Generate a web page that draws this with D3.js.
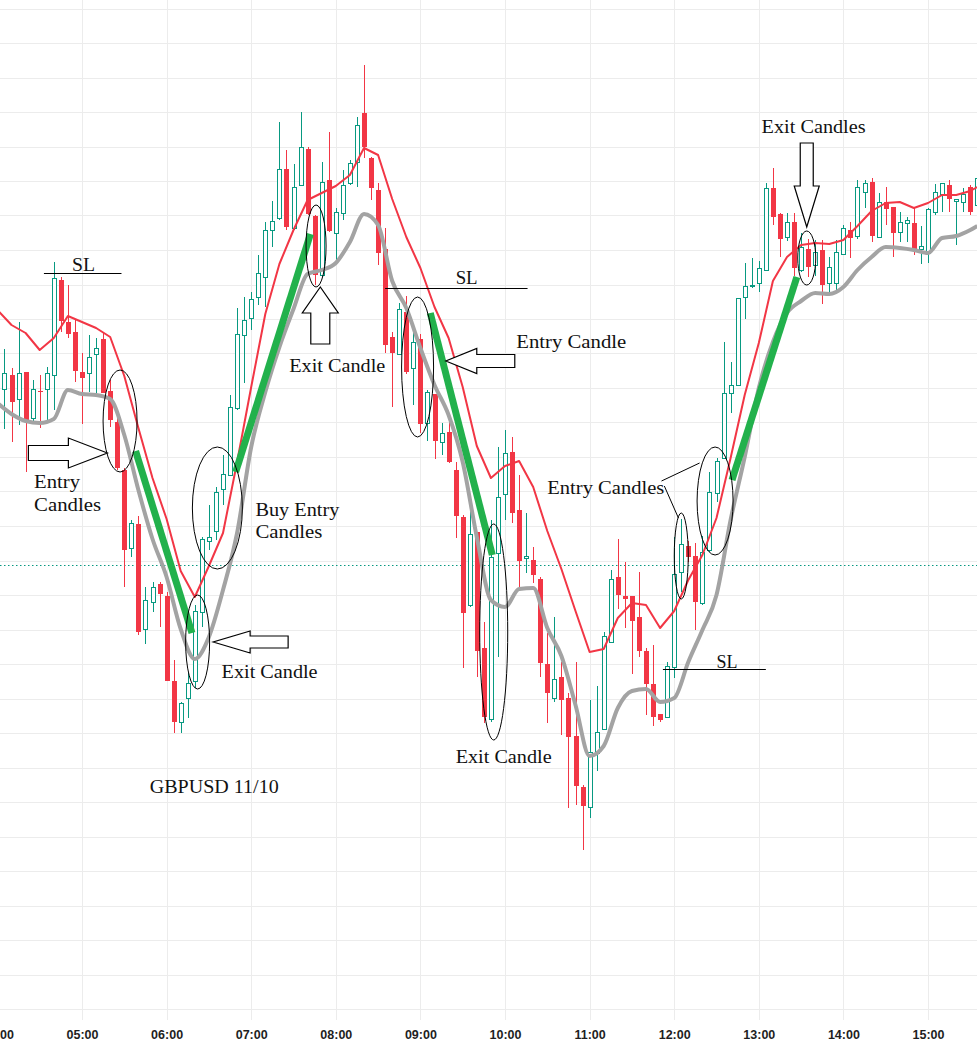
<!DOCTYPE html>
<html><head><meta charset="utf-8">
<script src="https://cdn.jsdelivr.net/npm/d3@7"></script>
<style>html,body{margin:0;padding:0;background:#fff;overflow:hidden}</style>
</head><body>
<svg id="chart" width="977" height="1047"></svg>
<script>
// ---------- DATA (GBPUSD 5-minute candles, price in chart points) ----------
const firstCandle = "04:00";
const candleMinutes = 5;
const hourTicks = ["04:00","05:00","06:00","07:00","08:00","09:00","10:00","11:00","12:00","13:00","14:00","15:00"];

const open = [656,620,634,610,637,591,618,620,634,729,687,677,637,636,655,670,618,587,539,461,
485,380,407,425,413,328,287,311,328,397,468,478,520,534,601,674,691,712,732,779,
791,840,781,824,860,793,734,829,776,796,826,847,896,851,819,760,672,655,697,641,
670,586,615,567,577,539,492,404,477,361,290,456,515,557,499,451,449,430,345,311,
332,311,273,222,202,256,280,367,432,413,413,392,358,325,295,292,342,437,463,453,
406,459,516,551,616,624,712,723,726,739,821,795,772,787,739,760,744,759,726,726,
755,779,773,817,827,772,807,802,777,786,786,760,756,797,815,824,808,807,822,804];
const high = [661,660,641,687,637,629,634,642,747,732,724,689,656,674,671,676,629,597,541,489,
493,422,427,427,417,349,307,336,404,472,504,522,554,614,701,712,717,754,787,808,
887,859,845,897,862,794,847,877,801,839,849,892,944,852,826,781,677,706,713,686,
675,619,615,586,591,547,494,514,477,387,489,562,579,572,534,496,462,432,376,392,
347,316,347,224,309,323,377,439,470,447,413,437,361,364,295,347,472,490,468,466,
473,537,551,667,647,711,746,751,748,826,841,796,796,796,776,770,769,769,752,769,
784,787,829,829,831,816,822,802,797,792,802,783,801,825,826,829,810,821,824,834];
const low = [609,580,567,584,537,588,581,586,599,677,671,627,585,617,614,616,582,539,422,452,
374,365,397,382,328,276,276,291,321,382,459,469,504,534,599,626,679,704,702,762,
789,779,779,823,794,724,732,777,746,789,824,822,851,809,744,656,602,654,635,604,
576,568,550,554,546,471,341,402,332,286,287,352,489,486,422,436,426,332,286,307,
274,201,204,159,191,238,279,367,400,381,335,352,294,283,287,291,331,417,447,379,
404,457,507,551,596,623,690,721,717,739,784,752,768,733,737,732,733,705,716,716,
754,751,770,801,767,771,784,752,767,767,754,745,746,794,797,797,764,797,794,799];
const close = [634,636,607,636,588,620,617,636,731,688,675,638,631,652,661,616,589,541,459,486,
377,409,422,415,328,287,306,326,398,470,472,517,535,602,675,689,710,736,779,788,
840,782,822,862,795,734,827,778,797,824,846,884,862,821,756,664,656,700,637,667,
585,617,568,576,547,493,396,475,358,292,452,512,556,496,448,453,434,346,316,330,
309,272,223,203,257,277,373,430,414,410,388,358,325,292,289,343,435,465,452,407,
457,517,548,616,624,711,723,724,741,821,792,770,787,741,762,742,757,724,742,757,
781,771,822,826,773,807,800,776,787,789,760,763,800,817,826,810,810,815,797,831];

// moving averages, read every second candle (candle index 0,2,...,138) plus the last candle
const maCandleIndex = d3.range(0, 140, 2).concat([139]);
const redMA = [699,684,676,659,671,693,687,681,672,633,581,531,490,438,412,443,476,547,622,695,
745,779,809,816,823,834,861,854,810,772,741,702,671,622,563,531,543,548,522,478,
440,398,357,360,391,406,404,381,398,429,454,491,551,614,666,728,752,764,766,765,
769,783,798,806,807,801,806,814,814,818,822];
const greyMA = [606,595,588,586,590,619,615,614,610,574,519,470,432,380,350,372,419,476,562,617,
662,700,735,739,746,767,795,784,728,701,661,624,594,547,472,409,402,420,421,381,
353,304,253,263,301,318,320,307,311,347,379,414,489,552,621,667,696,708,716,715,
722,739,752,762,761,759,756,771,773,779,783];
const lastPriceLevel = 444;

// ---------- ANNOTATIONS ----------
const trendLines = [["05:38",558,"06:18",376],["06:49",537,"07:42",775],["09:07",696,"09:51",454],["12:41",529,"13:27",732]];
const slLines = [["04:33","05:28",736],["08:35","10:16",721],["11:52","13:05",340]];
const ellipses = [["05:27",588,17,51],["06:22",367,12,47],["06:36",501,25,61],["07:46",763,10,41],
  ["08:58",642,16,70],["09:52",377,14,108],["12:05",453,7,43],["12:29",508,18,54],["13:34",751,9,27]];
const arrows = [
  {t:"05:18",v:556,dir:"right",len:79,head:39,hw:15,sw:7.5},
  {t:"06:33",v:367,dir:"left",len:75,head:37,hw:11,sw:6},
  {t:"07:49",v:722,dir:"up",len:57,head:26,hw:18,sw:9.5},
  {t:"09:18",v:648,dir:"left",len:69,head:31,hw:12.5,sw:6.5},
  {t:"13:34",v:782,dir:"down",len:84,head:41,hw:12.5,sw:6.5}];
const connectors = [["11:51",528,"12:18",546],["11:53",523,"12:03",491]];
const labels = [
  {text:"SL",t:"04:53",v:738,w:23},
  {text:"Entry",t:"04:26",v:521,w:46},
  {text:"Candles",t:"04:26",v:498,w:67},
  {text:"Buy Entry",t:"07:03",v:493,w:84},
  {text:"Candles",t:"07:03",v:471,w:67},
  {text:"Exit Candle",t:"06:39",v:331,w:96},
  {text:"Exit Candle",t:"07:27",v:637,w:96},
  {text:"SL",t:"09:25",v:725,w:22},
  {text:"Entry Candle",t:"10:08",v:661,w:110},
  {text:"Exit Candle",t:"09:25",v:246,w:96},
  {text:"GBPUSD 11/10",t:"05:48",v:216,w:129},
  {text:"Entry Candles",t:"10:30",v:515,w:117},
  {text:"SL",t:"12:30",v:341,w:21},
  {text:"Exit Candles",t:"13:02",v:876,w:104}];

// ---------- SCALES ----------
const W = 977, H = 1047;
const parseT = d3.utcParse("%H:%M");
const t0 = parseT(firstCandle);
const candleTime = i => d3.utcMinute.offset(t0, candleMinutes * i);
const x = d3.scaleUtc().domain([parseT("04:00"), parseT("15:00")]).range([-2.6, 928]);
const y = d3.scaleLinear().domain([0, 1009]).range([1009, 0]);
const gridStep = 34.5;

const svg = d3.select("#chart");
svg.append("rect").attr("width", W).attr("height", H).attr("fill", "#fff");

// grid
const gridG = svg.append("g").attr("stroke", "#ececec").attr("stroke-width", 1);
gridG.selectAll("line.h").data(d3.range(0, 1010, gridStep)).join("line")
  .attr("x1", 0).attr("x2", W)
  .attr("y1", d => Math.round(y(d)) + 0.5).attr("y2", d => Math.round(y(d)) + 0.5);
gridG.selectAll("line.v").data(hourTicks.map(parseT)).join("line")
  .attr("x1", d => Math.round(x(d)) + 0.5).attr("x2", d => Math.round(x(d)) + 0.5)
  .attr("y1", 0).attr("y2", 1020);

// last price dotted line
svg.append("line").attr("x1", 0).attr("x2", W)
  .attr("y1", Math.round(y(lastPriceLevel)) + 0.5).attr("y2", Math.round(y(lastPriceLevel)) + 0.5)
  .attr("stroke", "#089981").attr("stroke-width", 1).attr("stroke-dasharray", "1.5,2.5");

// axis
const axis = d3.axisBottom(x).tickValues(hourTicks.map(parseT)).tickFormat(d3.utcFormat("%H:%M")).tickSize(0);
const ag = svg.append("g").attr("transform", "translate(0,1027)").call(axis);
ag.select(".domain").remove();
ag.selectAll("text").attr("font-family", "'Liberation Sans', Arial, sans-serif")
  .attr("font-weight", "bold").attr("font-size", "12.5px").attr("fill", "#1e1e1e");

// candles
const UP = "#089981", DOWN = "#f23645";
const candles = open.map((o, i) => ({t: candleTime(i), o, h: high[i], l: low[i], c: close[i]}));
const cg = svg.append("g");
candles.forEach(d => {
  const px = Math.round(x(d.t));
  const up = d.c >= d.o;
  const col = up ? UP : DOWN;
  const yTop = Math.round(y(Math.max(d.o, d.c)));
  const yBot = Math.round(y(Math.min(d.o, d.c)));
  const g = cg.append("g");
  g.append("line").attr("x1", px + 0.5).attr("x2", px + 0.5)
    .attr("y1", Math.round(y(d.h))).attr("y2", Math.round(y(d.l)))
    .attr("stroke", col).attr("stroke-width", 1);
  if (up) {
    g.append("rect").attr("x", px - 1.5).attr("width", 4)
      .attr("y", yTop + 0.5).attr("height", Math.max(1, yBot - yTop))
      .attr("fill", "#fff").attr("stroke", col).attr("stroke-width", 1);
  } else {
    g.append("rect").attr("x", px - 2).attr("width", 5)
      .attr("y", yTop).attr("height", Math.max(1, yBot - yTop))
      .attr("fill", col);
  }
});

// moving averages
const maLine = d3.line().x(d => x(candleTime(d[0]))).y(d => y(d[1]));
svg.append("path").datum(maCandleIndex.map((ci, j) => [ci, redMA[j]]))
  .attr("d", maLine).attr("fill", "none").attr("stroke", "#f23645").attr("stroke-width", 2)
  .attr("stroke-linejoin", "round");
svg.append("path").datum(maCandleIndex.map((ci, j) => [ci, greyMA[j]]))
  .attr("d", maLine.curve(d3.curveMonotoneX)).attr("fill", "none").attr("stroke", "#a3a3a3").attr("stroke-width", 4)
  .attr("stroke-linejoin", "round");

// annotations
const ann = svg.append("g");
trendLines.forEach(([ta, va, tb, vb]) => {
  ann.append("line").attr("x1", x(parseT(ta))).attr("y1", y(va)).attr("x2", x(parseT(tb))).attr("y2", y(vb))
    .attr("stroke", "#22b14c").attr("stroke-width", 7).attr("stroke-linecap", "butt");
});
slLines.forEach(([ta, tb, v]) => {
  ann.append("line").attr("x1", x(parseT(ta))).attr("x2", x(parseT(tb)))
    .attr("y1", Math.round(y(v)) + 0.5).attr("y2", Math.round(y(v)) + 0.5)
    .attr("stroke", "#000").attr("stroke-width", 1);
});
connectors.forEach(([ta, va, tb, vb]) => {
  ann.append("line").attr("x1", x(parseT(ta))).attr("y1", y(va)).attr("x2", x(parseT(tb))).attr("y2", y(vb))
    .attr("stroke", "#000").attr("stroke-width", 1);
});
ellipses.forEach(([t, v, rx, ry]) => {
  ann.append("ellipse").attr("cx", x(parseT(t))).attr("cy", y(v)).attr("rx", rx).attr("ry", ry)
    .attr("fill", "none").attr("stroke", "#000").attr("stroke-width", 1);
});
const dirs = {right:[1,0], left:[-1,0], up:[0,-1], down:[0,1]};
arrows.forEach(a => {
  const tx = x(parseT(a.t)), ty = y(a.v);
  const [dx, dy] = dirs[a.dir];
  const px = -dy, py = dx;
  const pt = (along, side) => [tx - dx * along + px * side, ty - dy * along + py * side];
  const pts = [pt(0,0), pt(a.head,-a.hw), pt(a.head,-a.sw), pt(a.len,-a.sw), pt(a.len,a.sw), pt(a.head,a.sw), pt(a.head,a.hw)];
  ann.append("polygon").attr("points", pts.map(p => p.join(",")).join(" "))
    .attr("fill", "#fff").attr("stroke", "#000").attr("stroke-width", 1.2).attr("stroke-linejoin", "miter");
});
labels.forEach(l => {
  ann.append("text").attr("x", x(parseT(l.t))).attr("y", y(l.v))
    .attr("font-family", "'Liberation Serif', 'Times New Roman', serif").attr("font-size", "18.5px")
    .attr("fill", "#111").attr("textLength", l.w).attr("lengthAdjust", "spacingAndGlyphs")
    .text(l.text);
});
</script>
</body></html>
